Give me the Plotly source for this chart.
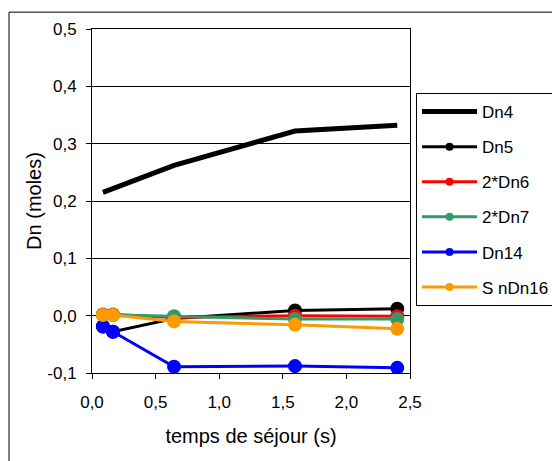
import plotly.graph_objects as go

x_dn4 = [0.086, 0.645, 1.596, 2.40]
dn4 = [0.215, 0.262, 0.322, 0.332]

x_pts = [0.086, 0.165, 0.645, 1.596, 2.40]
dn5 = [-0.019, -0.028, -0.005, 0.009, 0.012]
dn6x2 = [0.002, 0.002, -0.003, 0.000, -0.001]
dn7x2 = [0.001, 0.001, -0.001, -0.006, -0.006]
dn14 = [-0.019, -0.028, -0.089, -0.088, -0.091]
sndn16 = [0.001, 0.001, -0.010, -0.016, -0.023]

names = ["Dn5", "2*Dn6", "2*Dn7", "Dn14", "S nDn16"]
series = [dn5, dn6x2, dn7x2, dn14, sndn16]
colors = ["#000000", "#FF0000", "#339966", "#0000FF", "#FF9900"]

y_tickvals = [-0.1, 0.0, 0.1, 0.2, 0.3, 0.4, 0.5]
y_ticktext = ["-0,1", "0,0", "0,1", "0,2", "0,3", "0,4", "0,5"]

FONT = "Liberation Sans, Arial, sans-serif"

fig = go.Figure()
# data traces (legend entries drawn by the small-marker traces below)
fig.add_trace(go.Scatter(x=x_dn4, y=dn4, mode="lines", name="Dn4", showlegend=False,
                         line=dict(color="#000000", width=5)))
for n, s, c in zip(names, series, colors):
    fig.add_trace(go.Scatter(x=x_pts, y=s, mode="lines+markers", name=n, showlegend=False,
                             line=dict(color=c, width=3), marker=dict(color=c, size=14)))

# legend entries
fig.add_trace(go.Scatter(x=[None], y=[None], mode="lines", name="Dn4",
                         line=dict(color="#000000", width=5), legendgroup="g0"))
for i, (n, c) in enumerate(zip(names, colors)):
    fig.add_trace(go.Scatter(x=[None], y=[None], mode="lines+markers", name=n,
                             line=dict(color=c, width=3), marker=dict(color=c, size=8),
                             legendgroup="g%d" % (i + 1)))

font = dict(family=FONT, size=17, color="#000000")

fig.update_layout(
    width=560, height=461,
    margin=dict(l=84, r=158, t=21, b=96),
    paper_bgcolor="white", plot_bgcolor="white",
    separators=", ",
    font=font,
    showlegend=True,
    legend=dict(x=1.019, y=0.814, xanchor="left", yanchor="top",
                bordercolor="#000000", borderwidth=1, bgcolor="white",
                traceorder="grouped", tracegroupgap=10, itemwidth=55,
                font=dict(family=FONT, size=17)),
    xaxis=dict(range=[0, 2.5], dtick=0.5, tickformat=".1f",
               showgrid=False, zeroline=False,
               showline=True, linecolor="#000000", linewidth=1, mirror=True,
               ticks="outside", ticklen=5, tickcolor="#000000", ticklabelstandoff=9,
               title=dict(text="temps de séjour (s)", standoff=17)),
    yaxis=dict(range=[-0.1, 0.5], tickmode="array", tickvals=y_tickvals, ticktext=y_ticktext,
               showgrid=True, gridcolor="#000000", gridwidth=1, zeroline=False,
               showline=True, linecolor="#000000", linewidth=1, mirror=True,
               ticks="outside", ticklen=5, tickcolor="#000000", ticklabelstandoff=6,
               title=dict(text="Dn (moles)", standoff=0)),
)

fig.add_shape(type="rect", xref="paper", yref="paper",
              x0=-0.261, x1=1.6, y0=-0.3, y1=1.049,
              line=dict(color="#000000", width=1), fillcolor="rgba(0,0,0,0)")

fig.write_html("out.html")
